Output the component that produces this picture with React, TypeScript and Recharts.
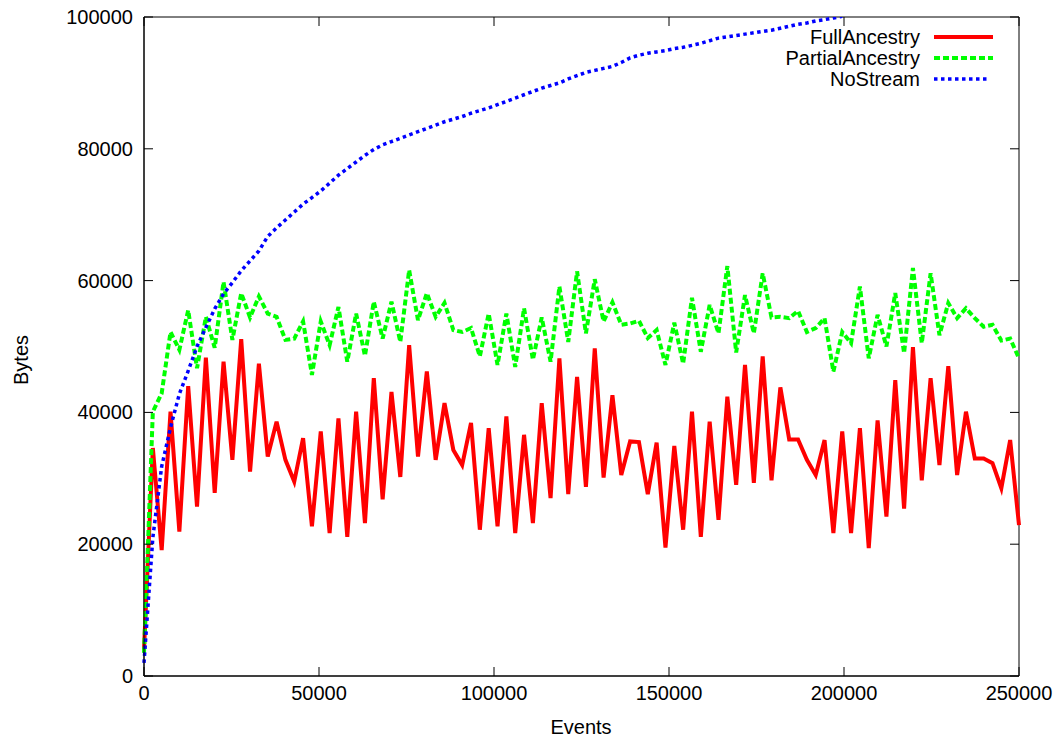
import React from 'react';
import { LineChart, Line, XAxis, YAxis, Legend, ReferenceArea, Label } from 'recharts';

const FONT = "'Liberation Sans', Arial, Helvetica, sans-serif";

// plot box in page pixels
const LEFT = 144;
const RIGHT = 1019;
const TOP = 17;
const BOTTOM = 676;
const TICK = 9;

const events = [
  0, 2525, 5051, 7576, 10101, 12626, 15152, 17677, 20202, 22727,
  25253, 27778, 30303, 32828, 35354, 37879, 40404, 42929, 45455, 47980,
  50505, 53030, 55556, 58081, 60606, 63131, 65657, 68182, 70707, 73232,
  75758, 78283, 80808, 83333, 85859, 88384, 90909, 93434, 95960, 98485,
  101010, 103535, 106061, 108586, 111111, 113636, 116162, 118687, 121212, 123737,
  126263, 128788, 131313, 133838, 136364, 138889, 141414, 143939, 146465, 148990,
  151515, 154040, 156566, 159091, 161616, 164141, 166667, 169192, 171717, 174242,
  176768, 179293, 181818, 184343, 186869, 189394, 191919, 194444, 196970, 199495,
  202020, 204545, 207071, 209596, 212121, 214646, 217172, 219697, 222222, 224747,
  227273, 229798, 232323, 234848, 237374, 239899, 242424, 244949, 247475, 250000,
];

const fullAncestry = [
  4000, 34600, 19100, 40100, 21900, 44000, 25700, 48300, 27800, 47700,
  32800, 51100, 31000, 47400, 33300, 38600, 32800, 29500, 36100, 22700,
  37100, 21700, 39100, 21100, 40100, 23200, 45200, 26800, 43100, 30200,
  50200, 33300, 46200, 32800, 41400, 34300, 32000, 38400, 22200, 37600,
  22700, 39400, 21700, 36600, 23200, 41400, 27000, 48200, 27600, 45400,
  28700, 49700, 30100, 42600, 30500, 35600, 35500, 27600, 35400, 19500,
  34900, 22200, 40100, 21100, 38600, 23700, 42400, 29000, 47200, 29300,
  48500, 29700, 43800, 35900, 35900, 32800, 30500, 35800, 21700, 37100,
  21700, 37600, 19400, 38800, 24200, 44900, 25400, 49900, 29700, 45200,
  32000, 47000, 30500, 40100, 33000, 33000, 32300, 28500, 35800, 22900,
];

const partialAncestry = [
  3500, 40100, 42900, 52200, 49500, 55500, 46700, 54500, 49800, 59800,
  51000, 58100, 54400, 57600, 55000, 54500, 51000, 51200, 53800, 45700,
  53800, 50200, 56000, 47700, 55000, 48600, 56800, 51200, 56800, 50700,
  61600, 54000, 58100, 54500, 56600, 52500, 52200, 52800, 48500, 55000,
  47200, 55000, 46900, 55800, 48000, 54400, 47700, 59100, 50700, 61400,
  52000, 60200, 53800, 56700, 53300, 53500, 53900, 51300, 52500, 47200,
  53600, 47400, 57400, 49200, 56300, 52000, 62200, 49100, 57800, 52000,
  61100, 54400, 54500, 54300, 55400, 52200, 52800, 54300, 46200, 52200,
  50500, 59100, 48200, 54800, 50000, 58100, 49000, 61900, 50500, 61100,
  51700, 56600, 54300, 55800, 54300, 53000, 53300, 50900, 51200, 48200,
];

// leaves the plot at the top edge, so it stops here
const noStream = [
  2000, 21000, 31800, 37700, 42800, 46300, 50000, 52900, 55700, 58000,
  59700, 61500, 63000, 64500, 66700, 68000, 69200, 70400, 71600, 72600,
  73600, 74800, 76000, 77000, 78000, 79000, 79900, 80600, 81100, 81600,
  82100, 82600, 83100, 83600, 84100, 84500, 84900, 85400, 85800, 86200,
  86700, 87200, 87700, 88200, 88700, 89200, 89600, 90000, 90600, 91100,
  91600, 91900, 92200, 92500, 93100, 93800, 94200, 94500, 94700, 94900,
  95200, 95400, 95700, 96000, 96400, 96800, 97000, 97200, 97400, 97600,
  97800, 98000, 98300, 98600, 98900, 99100, 99400, 99600, 99850, 100100,
];

const xTicks = [0, 50000, 100000, 150000, 200000, 250000];
const yTicks = [0, 20000, 40000, 60000, 80000, 100000];

const series = [
  { key: 'full', name: 'FullAncestry', color: '#ff0000', dash: undefined, width: 4 },
  { key: 'partial', name: 'PartialAncestry', color: '#00ff00', dash: '6 3', width: 4 },
  { key: 'noStream', name: 'NoStream', color: '#0000ff', dash: '3.5 3.5', width: 3.5 },
];

const data = events.map((e, i) => ({
  events: e,
  full: fullAncestry[i],
  partial: partialAncestry[i],
  noStream: i < noStream.length ? noStream[i] : null,
}));

function XTick(props: any) {
  const { x, payload } = props;
  return (
    <g>
      <line x1={x} y1={BOTTOM} x2={x} y2={BOTTOM - TICK} stroke="#000" />
      <line x1={x} y1={TOP} x2={x} y2={TOP + TICK} stroke="#000" />
      <text x={x} y={700} textAnchor="middle" fontSize={20} fontFamily={FONT} fill="#000">
        {payload.value}
      </text>
    </g>
  );
}

function YTick(props: any) {
  const { y, payload } = props;
  return (
    <g>
      <line x1={LEFT} y1={y} x2={LEFT + TICK} y2={y} stroke="#000" />
      <line x1={RIGHT} y1={y} x2={RIGHT - TICK} y2={y} stroke="#000" />
      <text x={133} y={y + 7} textAnchor="end" fontSize={20} fontFamily={FONT} fill="#000">
        {payload.value}
      </text>
    </g>
  );
}

function EventsLabel() {
  return (
    <text x={581} y={734} textAnchor="middle" fontSize={20} fontFamily={FONT} fill="#000">
      Events
    </text>
  );
}

function BytesLabel() {
  return (
    <text x={28} y={360} transform="rotate(-90 28 360)" textAnchor="middle" fontSize={20} fontFamily={FONT} fill="#000">
      Bytes
    </text>
  );
}

function LegendBox() {
  return (
    <svg width={320} height={70}>
      {series.map((s, i) => {
        const cy = 11 + i * 21;
        return (
          <g key={s.key}>
            <text x={220} y={cy + 7} textAnchor="end" fontSize={20} fontFamily={FONT} fill="#000">
              {s.name}
            </text>
            <line
              x1={234}
              x2={s.key === 'noStream' ? 289 : 293}
              y1={cy}
              y2={cy}
              stroke={s.color}
              strokeWidth={s.width}
              strokeDasharray={s.dash}
            />
          </g>
        );
      })}
    </svg>
  );
}

export default function App() {
  return (
    <div style={{ position: 'absolute', left: 0, top: 0, width: 1059, height: 740, background: '#fff', fontFamily: FONT }}>
      <LineChart width={1059} height={740} data={data} margin={{ top: TOP, right: 1059 - RIGHT, bottom: 0, left: 0 }}>
        <XAxis
          dataKey="events"
          type="number"
          domain={[0, 250000]}
          ticks={xTicks}
          interval={0}
          height={740 - BOTTOM}
          tickSize={0}
          tickMargin={0}
          tickLine={false}
          tick={XTick}
          axisLine={{ stroke: '#000' }}
        >
          <Label content={EventsLabel} />
        </XAxis>
        <YAxis
          type="number"
          domain={[0, 100000]}
          allowDataOverflow
          ticks={yTicks}
          interval={0}
          width={LEFT}
          tickSize={0}
          tickMargin={0}
          tickLine={false}
          tick={YTick}
          axisLine={{ stroke: '#000' }}
        >
          <Label content={BytesLabel} />
        </YAxis>
        <Legend
          layout="vertical"
          align="center"
          verticalAlign="middle"
          content={LegendBox}
          wrapperStyle={{ position: 'absolute', left: 700, top: 26, width: 320, height: 70 }}
        />
        {series.map((s) => (
          <Line
            key={s.key}
            dataKey={s.key}
            name={s.name}
            type="linear"
            stroke={s.color}
            strokeWidth={s.width}
            strokeDasharray={s.dash}
            dot={false}
            activeDot={false}
            isAnimationActive={false}
          />
        ))}
        <ReferenceArea x1={0} x2={250000} y1={0} y2={100000} fill="none" fillOpacity={0} stroke="#000" strokeWidth={1} />
      </LineChart>
    </div>
  );
}
